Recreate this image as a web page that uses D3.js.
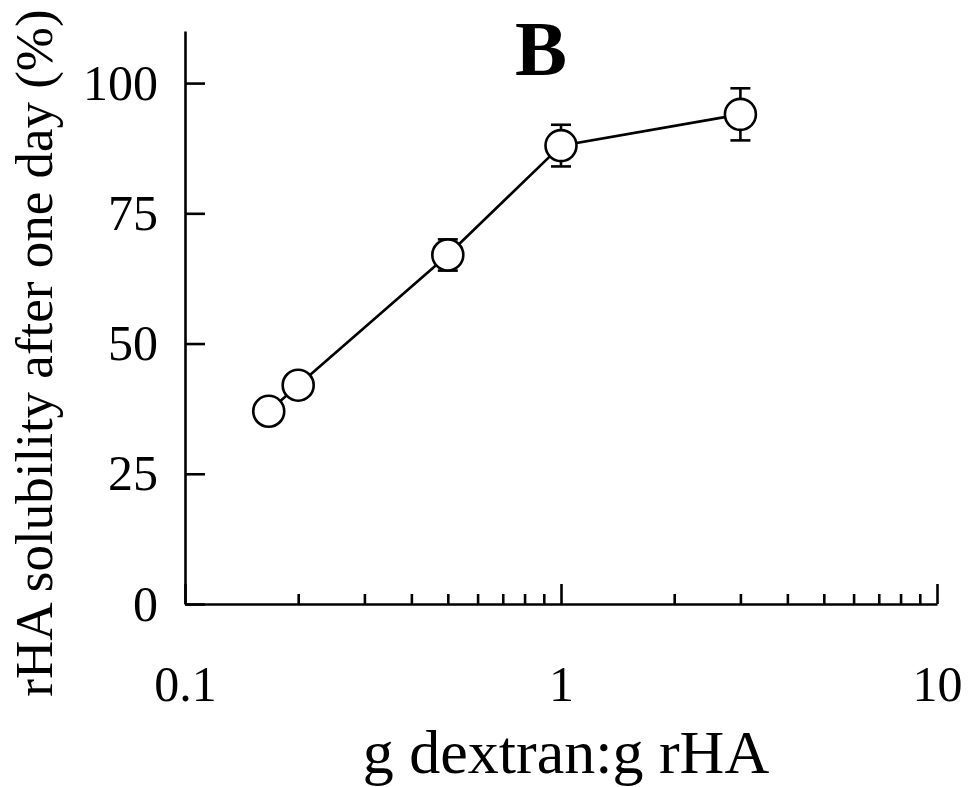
<!DOCTYPE html>
<html>
<head>
<meta charset="utf-8">
<script src="https://cdn.jsdelivr.net/npm/d3@7/dist/d3.min.js"></script>
<style>
  html, body { margin: 0; padding: 0; background: #fff; }
  svg { display: block; }
  text { font-family: "Liberation Serif", "Times New Roman", serif; fill: #000; }
</style>
</head>
<body>
<svg id="chart" width="969" height="787"></svg>
<script>
// Dextran-to-protein mass ratio (g dextran : g rHA)
const ratios = [0.167, 0.2, 0.5, 1, 3];
// rHA solubility after one day (%)
const solubility = [37, 42, 67, 88, 94];
// Standard deviation of each mean
const errors = [2, 2, 3, 4, 5];

const yTicks = [0, 25, 50, 75, 100];
const xMajorTicks = [0.1, 1, 10];
const xMinorTicks = [0.2, 0.3, 0.4, 0.5, 0.6, 0.7, 0.8, 0.9, 2, 3, 4, 5, 6, 7, 8, 9];
const xTickLabels = ["0.1", "1", "10"];

const panelLabel = "B";
const xTitle = "g dextran:g rHA";
const yTitle = "rHA solubility after one day (%)";

const svg = d3.select("#chart");

const x = d3.scaleLog().domain([0.1, 10]).range([185, 937]);
const y = d3.scaleLinear().domain([0, 110]).range([604, 31]);

const axisStroke = 2.6;
const tickFont = "50px";

// Y axis: ticks point inward
const yAxis = svg.append("g")
  .attr("transform", `translate(${x(0.1)},0)`)
  .call(d3.axisLeft(y).tickValues(yTicks).tickSizeInner(-20).tickSizeOuter(0).tickPadding(27).tickFormat(d3.format("d")));
yAxis.selectAll("text").style("font-size", tickFont);

// X axis: minor ticks (short), then major ticks with labels
const xMinor = svg.append("g")
  .attr("transform", `translate(0,${y(0)})`)
  .call(d3.axisBottom(x).tickValues(xMinorTicks).tickSizeInner(-10).tickSizeOuter(0).tickFormat(""));
xMinor.select(".domain").remove();

const xAxis = svg.append("g")
  .attr("transform", `translate(0,${y(0)})`)
  .call(d3.axisBottom(x).tickValues(xMajorTicks).tickSizeInner(-20).tickSizeOuter(0).tickPadding(61)
    .tickFormat((d, i) => xTickLabels[i]));
xAxis.selectAll("text").style("font-size", tickFont);

svg.selectAll(".domain, .tick line")
  .attr("stroke", "#000")
  .attr("stroke-width", axisStroke);

// Axis titles
svg.append("text")
  .attr("x", 566)
  .attr("y", 773)
  .attr("text-anchor", "middle")
  .style("font-size", "62px")
  .text(xTitle);

svg.append("text")
  .attr("transform", "translate(52,353) rotate(-90)")
  .attr("text-anchor", "middle")
  .style("font-size", "53px")
  .text(yTitle);

// Panel label
svg.append("text")
  .attr("x", 541)
  .attr("y", 75)
  .attr("text-anchor", "middle")
  .style("font-size", "78px")
  .style("font-weight", "bold")
  .text(panelLabel);

const data = ratios.map((r, i) => ({ r, v: solubility[i], e: errors[i] }));

// Connecting line
svg.append("path")
  .datum(data)
  .attr("fill", "none")
  .attr("stroke", "#000")
  .attr("stroke-width", 2.6)
  .attr("d", d3.line().x(d => x(d.r)).y(d => y(d.v)));

// Error bars
const capHalf = 10;
const eb = svg.append("g").attr("stroke", "#000").attr("stroke-width", 2.6);
data.forEach(d => {
  const cx = x(d.r);
  eb.append("line").attr("x1", cx).attr("x2", cx).attr("y1", y(d.v - d.e)).attr("y2", y(d.v + d.e));
  eb.append("line").attr("x1", cx - capHalf).attr("x2", cx + capHalf).attr("y1", y(d.v + d.e)).attr("y2", y(d.v + d.e));
  eb.append("line").attr("x1", cx - capHalf).attr("x2", cx + capHalf).attr("y1", y(d.v - d.e)).attr("y2", y(d.v - d.e));
});

// Open circle markers
svg.append("g").selectAll("circle")
  .data(data)
  .join("circle")
  .attr("cx", d => x(d.r))
  .attr("cy", d => y(d.v))
  .attr("r", 15.5)
  .attr("fill", "#fff")
  .attr("stroke", "#000")
  .attr("stroke-width", 2.6);
</script>
</body>
</html>
